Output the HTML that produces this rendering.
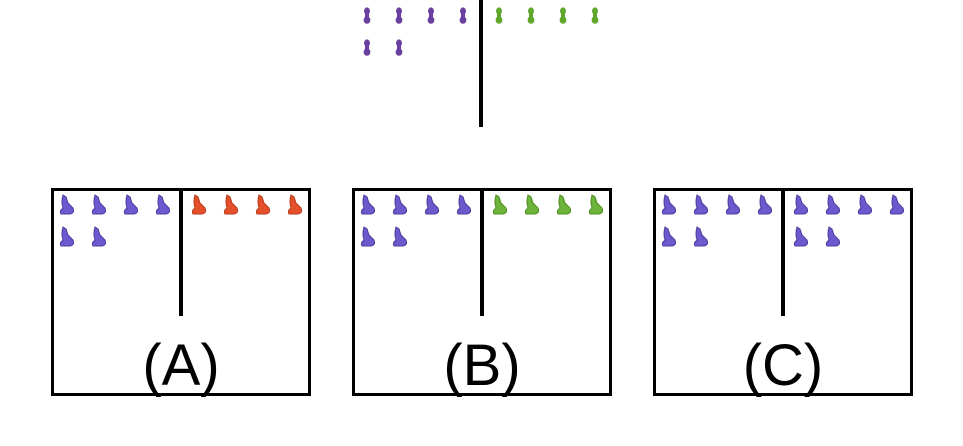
<!DOCTYPE html>
<html><head><meta charset="utf-8"><style>
body{margin:0;background:#fff;width:963px;height:446px;overflow:hidden}
svg{display:block}
</style></head><body>
<svg id="s" width="963" height="446">
<line x1="481" y1="0" x2="481" y2="127" stroke="#000" stroke-width="4"/>
</svg>
<script>
const NS='http://www.w3.org/2000/svg';
const s=document.getElementById('s');
const topLeft=6, topRight=4;
const panels=[{x:51,label:'(A)',rc:'#e4502a',rs:'#b8381a'},{x:352,label:'(B)',rc:'#6cb33a',rs:'#4d8c22'},{x:653,label:'(C)',rc:'#6a5acd',rs:'#4b3c9e'}];
const leftCount=6, rightCount=4;
function el(t,a,p){const e=document.createElementNS(NS,t);for(const k in a)e.setAttribute(k,a[k]);(p||s).appendChild(e);return e;}
function peanut(cx,cy,c,name){
  const g=el('g',{});
  
  
  el('ellipse',{cx:cx,cy:cy-5,rx:3,ry:3.6,fill:c},g);
  el('ellipse',{cx:cx,cy:cy+4,rx:3.4,ry:3.8,fill:c},g);
  el('rect',{x:cx-2,y:cy-3,width:4,height:6,fill:c},g);
}
function boot(cx,cy,c,st,name){
  const g=el('g',{});
  
  
  el('path',{d:`M${cx-4} ${cy-10} L${cx-1} ${cy-8} L${cx+1} ${cy-2} L${cx+6} ${cy+3} Q${cx+8} ${cy+8} ${cx+3} ${cy+9} L${cx-6} ${cy+9} Q${cx-8} ${cy+6} ${cx-4} ${cy+3} Q${cx-6} ${cy-3} ${cx-4} ${cy-10} Z`,fill:c,stroke:st,'stroke-width':1},g);
}
for(let i=0;i<topLeft;i++)peanut(367+32*(i%4),16+32*Math.floor(i/4),'#6a3fa0','top-purple-token');
for(let i=0;i<topRight;i++)peanut(499+32*i,16,'#5fa82c','top-green-token');
panels.forEach(p=>{
  const g=el('g',{});
  
  
  const r=el('rect',{x:p.x+1.5,y:189.5,width:257,height:205,fill:'none',stroke:'#000','stroke-width':3},g);
  
  
  const l=el('line',{x1:p.x+130,y1:189,x2:p.x+130,y2:316,stroke:'#000','stroke-width':4},g);
  
  
  for(let i=0;i<leftCount;i++)boot(p.x+16+32*(i%4),205+32*Math.floor(i/4),'#6a5acd','#4b3c9e','left-token');
  const rn=p.label==='(C)'?6:rightCount;
  for(let i=0;i<rn;i++)boot(p.x+148+32*(i%4),205+32*Math.floor(i/4),p.rc,p.rs,'right-token');
  const t=el('text',{x:p.x+130,y:385,'text-anchor':'middle','font-family':'Liberation Sans, sans-serif','font-size':58,fill:'#000'},g);
  t.textContent=p.label;
  
  
});
</script>
</body></html>
